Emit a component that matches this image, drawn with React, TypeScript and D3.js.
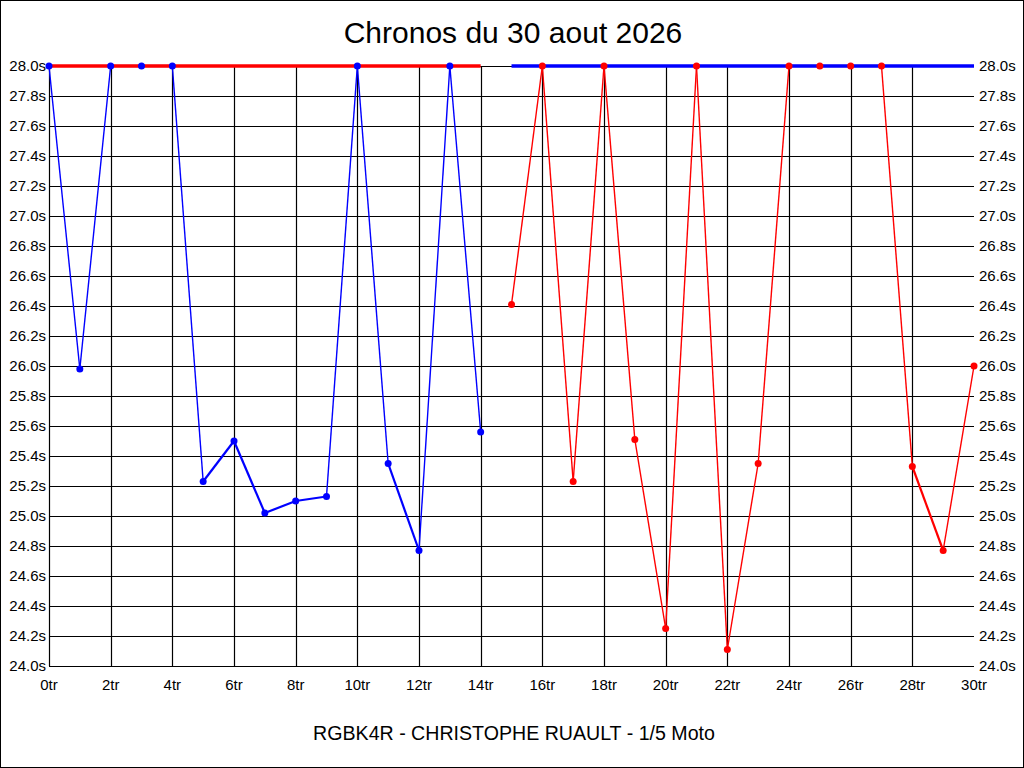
import React from "react";
import * as d3 from "d3";

// tours (x) et chronos (y, secondes)
const blueLaps = [0, 1, 2, 3, 4, 5, 6, 7, 8, 9, 10, 11, 12, 13, 14];
const blueTimes = [28.0, 25.98, 28.0, 28.0, 28.0, 25.23, 25.5, 25.02, 25.1, 25.13, 28.0, 25.35, 24.77, 28.0, 25.56];
const redLaps = [15, 16, 17, 18, 19, 20, 21, 22, 23, 24, 25, 26, 27, 28, 29, 30];
const redTimes = [26.41, 28.0, 25.23, 28.0, 25.51, 24.25, 28.0, 24.11, 25.35, 28.0, 28.0, 28.0, 28.0, 25.33, 24.77, 26.0];

// barres horizontales du haut (tours debut/fin)
const redBar = [0, 14];
const blueBar = [15, 30];

const yTicks = d3.range(0, 21).map((i) => 24 + i * 0.2);
const xTicks = d3.range(0, 31, 2);

const title = "Chronos du 30 aout 2026";
const footer = "RGBK4R - CHRISTOPHE RUAULT - 1/5 Moto";

const W = 1024;
const H = 768;
const left = 49;
const right = 974;
const top = 66;
const bottom = 666;
const font = "'Liberation Sans', Arial, sans-serif";

const x = d3.scaleLinear().domain([0, 30]).range([left, right]);
const y = d3.scaleLinear().domain([24, 28]).range([bottom, top]);

const points = (laps, times) => laps.map((l, i) => [x(l), y(times[i])]);

const Lines = ({ laps, times, color }) => {
  const pts = points(laps, times);
  const segs = pts.slice(1).map((p, i) => [pts[i], p]);
  return (
    <g>
      {segs.map(([a, b], i) => {
        const steep = Math.abs(b[1] - a[1]) / Math.abs(b[0] - a[0]) > 3;
        return (
          <line key={i} x1={a[0]} y1={a[1]} x2={b[0]} y2={b[1]} stroke={color} strokeWidth={steep ? 1.4 : 2.2} />
        );
      })}
    </g>
  );
};

const Dots = ({ laps, times, color }) => (
  <g>
    {points(laps, times).map((p, i) => (
      <circle key={i} cx={p[0]} cy={p[1]} r={3.5} fill={color} />
    ))}
  </g>
);

export default function App() {
  return (
    <svg width={W} height={H} style={{ display: "block", position: "absolute", left: 0, top: 0 }}>
      <rect x={0.5} y={0.5} width={W - 1} height={H - 1} fill="#fff" stroke="#000" />
      <text x={W / 2 + 1} y={43} textAnchor="middle" fontFamily={font} fontSize={30} fill="#000">
        {title}
      </text>

      {/* grille */}
      {yTicks.map((t) => (
        <line key={"h" + t} x1={left} x2={right} y1={Math.round(y(t)) + 0.5} y2={Math.round(y(t)) + 0.5} stroke="#000" strokeWidth={1.2} />
      ))}
      {xTicks.filter((t) => t < 30).map((t) => (
        <line key={"v" + t} x1={Math.round(x(t)) + 0.5} x2={Math.round(x(t)) + 0.5} y1={top} y2={bottom} stroke="#000" strokeWidth={1.2} />
      ))}

      <Lines laps={blueLaps} times={blueTimes} color="#0000ff" />
      <Lines laps={redLaps} times={redTimes} color="#ff0000" />

      {/* barres a 28.0s */}
      <line x1={x(redBar[0])} x2={x(redBar[1])} y1={y(28)} y2={y(28)} stroke="#ff0000" strokeWidth={3.5} />
      <line x1={x(blueBar[0])} x2={x(blueBar[1])} y1={y(28)} y2={y(28)} stroke="#0000ff" strokeWidth={3.5} />

      <Dots laps={blueLaps} times={blueTimes} color="#0000ff" />
      <Dots laps={redLaps} times={redTimes} color="#ff0000" />

      {/* axes */}
      {yTicks.map((t) => (
        <g key={"yl" + t} fontFamily={font} fontSize={15} fill="#000">
          <text x={left - 3} y={y(t) + 5} textAnchor="end">
            {t.toFixed(1) + "s"}
          </text>
          <text x={right + 5} y={y(t) + 5} textAnchor="start">
            {t.toFixed(1) + "s"}
          </text>
        </g>
      ))}
      {xTicks.map((t) => (
        <text key={"xl" + t} x={x(t)} y={690} textAnchor="middle" fontFamily={font} fontSize={15} fill="#000">
          {t + "tr"}
        </text>
      ))}

      <text x={W / 2 + 2} y={740} textAnchor="middle" fontFamily={font} fontSize={19.6} fill="#000">
        {footer}
      </text>
    </svg>
  );
}
